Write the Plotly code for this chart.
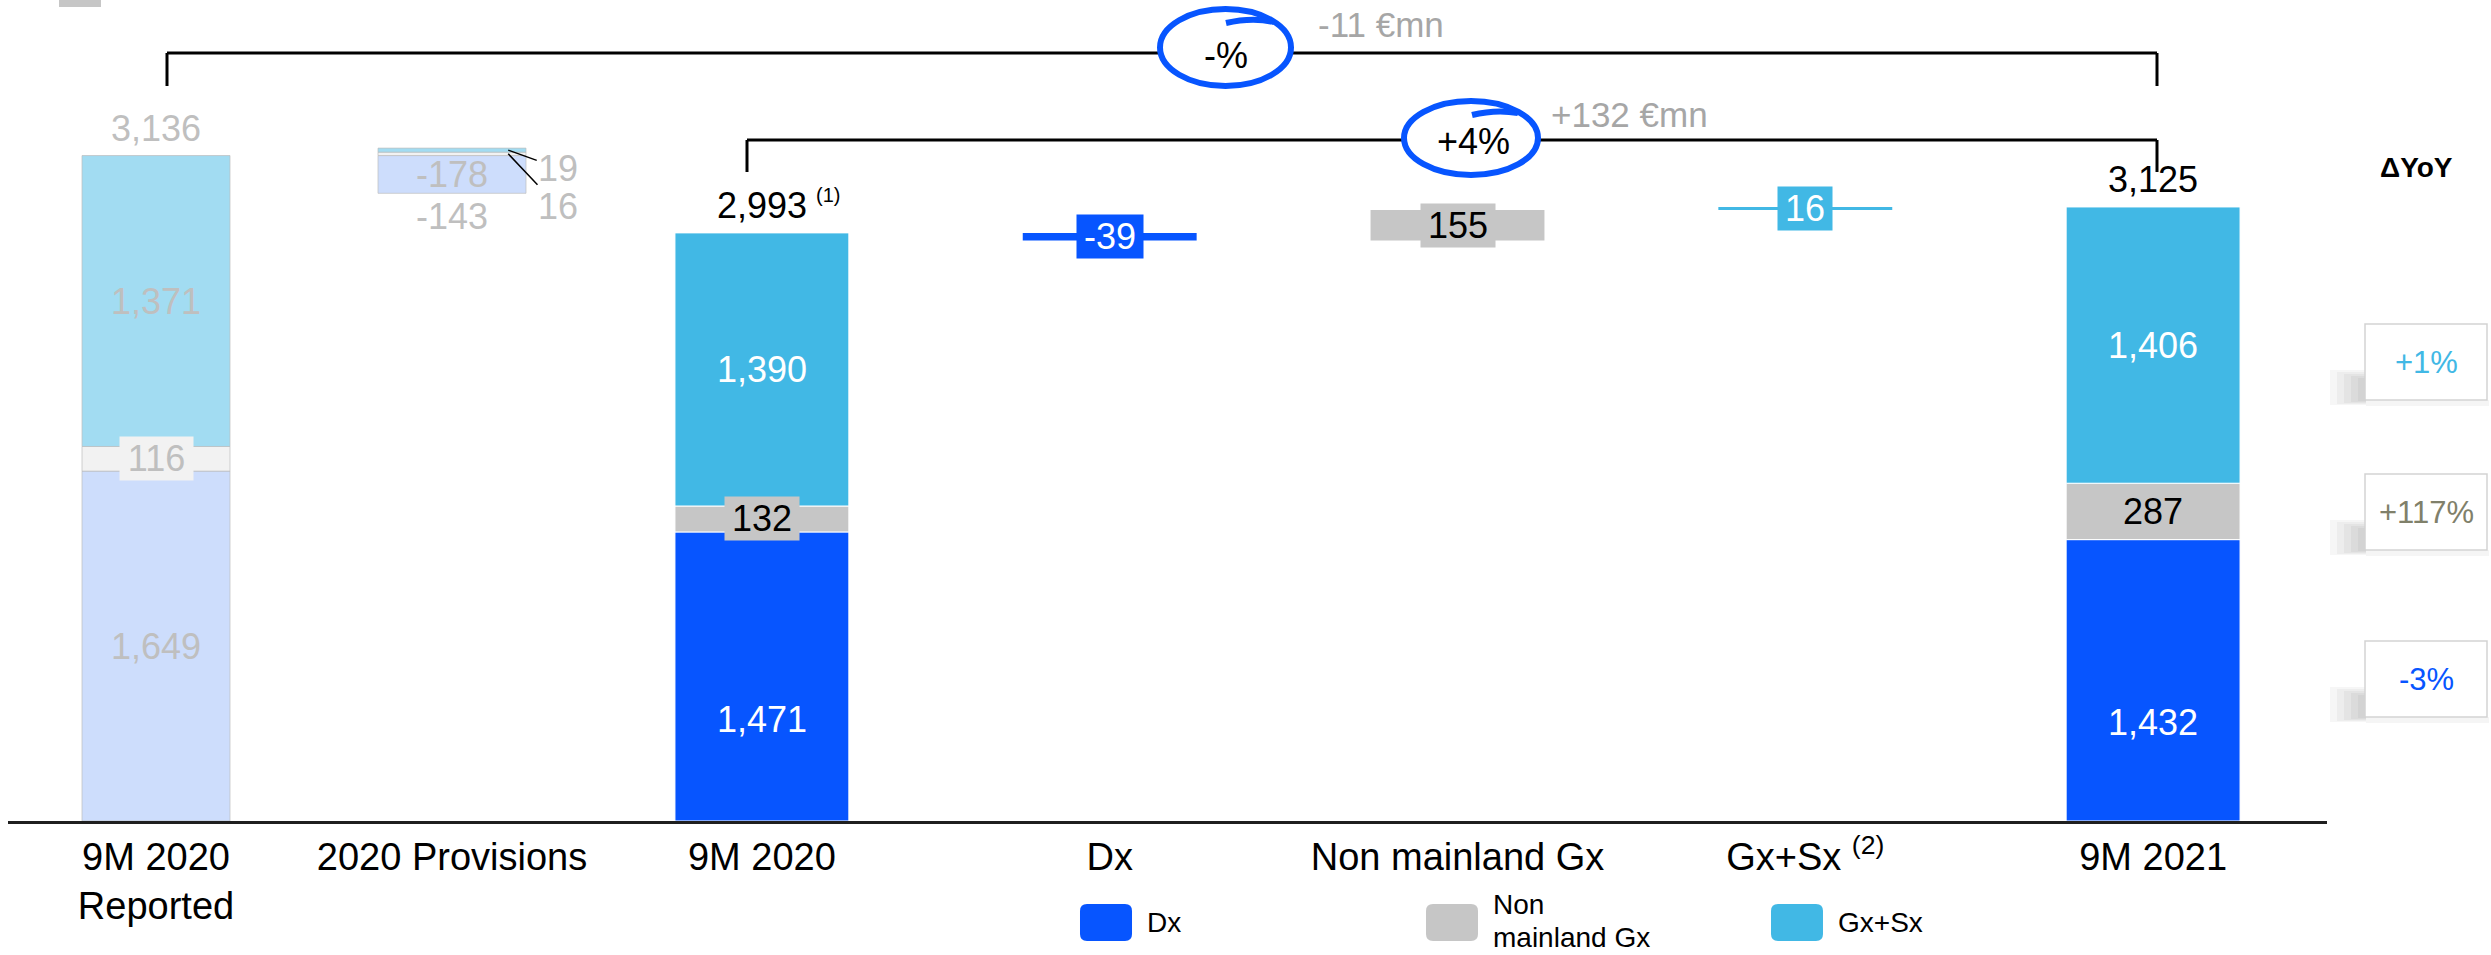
import plotly.graph_objects as go

W, H = 2491, 955
FONT = "Liberation Sans, Arial, sans-serif"

# ---- data -------------------------------------------------------------
left_cats = ["9M 2020<br>Reported", "2020 Provisions"]
main_cats = ["9M 2020", "Dx", "Non mainland Gx", "Gx+Sx <sup>(2)</sup>", "9M 2021"]
segment_names = [["Dx"], ["Non", "mainland Gx"], ["Gx+Sx"]]

reported_2020 = [1649, 116, 1371]      # Dx, Non mainland Gx, Gx+Sx
provisions_2020 = [-178, 16, 19]
revenue_9m2021 = [1432, 287, 1406]

yoy_labels = ["-3%", "+117%", "+1%"]
bracket_pct = ["-%", "+4%"]
bracket_abs = ["-11 €mn", "+132 €mn"]

# ---- colours ----------------------------------------------------------
COL = ["#0755FF", "#C6C6C6", "#41B8E5"]
COL_FADED = ["#CDDDFC", "#F2F2F2", "#A2DCF2"]
TXT_FADED = "#BFBFBF"
YOY_COL = ["#0755FF", "#80806A", "#41B8E5"]

# ---- derived series ---------------------------------------------------
revenue_9m2020 = [r + p for r, p in zip(reported_2020, provisions_2020)]
deltas = [b - a for a, b in zip(revenue_9m2020, revenue_9m2021)]
tot_rep = sum(reported_2020)
tot_2020 = sum(revenue_9m2020)
tot_2021 = sum(revenue_9m2021)


def stack_bases(vals):
    out, acc = [], 0
    for v in vals:
        out.append(acc)
        acc += v
    return out


rep_base = stack_bases(reported_2020)
base_2020 = stack_bases(revenue_9m2020)
base_2021 = stack_bases(revenue_9m2021)

# provisions: positives stacked upward from the reported total, negatives downward
prov_base, up, down = [], tot_rep, tot_rep
for p in provisions_2020:
    if p >= 0:
        prov_base.append(up)
        up += p
    else:
        down += p
        prov_base.append(down)

# bridge from 9M 2020 to 9M 2021
wf_base, level = [], tot_2020
for d in deltas:
    if d >= 0:
        wf_base.append(level)
        level += d
    else:
        level += d
        wf_base.append(level)

fig = go.Figure()

for i in range(3):
    fig.add_trace(go.Bar(
        x=left_cats, y=[reported_2020[i], abs(provisions_2020[i])],
        base=[rep_base[i], prov_base[i]], width=0.5,
        marker=dict(color=COL_FADED[i], line=dict(color="rgba(190,190,190,0.7)", width=1)),
        xaxis="x", yaxis="y", hoverinfo="skip", showlegend=False))

for i in range(3):
    fig.add_trace(go.Bar(
        x=[main_cats[0], main_cats[1 + i], main_cats[4]],
        y=[revenue_9m2020[i], abs(deltas[i]), revenue_9m2021[i]],
        base=[base_2020[i], wf_base[i], base_2021[i]], width=0.5,
        marker=dict(color=COL[i], line=dict(color="white", width=[1, 0, 1])),
        xaxis="x2", yaxis="y2", hoverinfo="skip", showlegend=False))

ann = []


def label(text, x, y, axis, color, size=36, **kw):
    d = dict(text=text, x=x, y=y, xref="x" if axis == 1 else "x2",
             yref="y" if axis == 1 else "y2", showarrow=False,
             font=dict(family=FONT, size=size, color=color))
    d.update(kw)
    ann.append(d)


# reported bar
for i, v in enumerate(reported_2020):
    extra = {}
    if i == 1:
        extra = dict(bgcolor=COL_FADED[1], width=71, height=41)
    label(f"{v:,}", left_cats[0], rep_base[i] + v / 2, 1, TXT_FADED, **extra)
label(f"{tot_rep:,}", left_cats[0], tot_rep, 1, TXT_FADED, yshift=27)

# provisions bar
label(f"{provisions_2020[0]:,}", left_cats[1], prov_base[0] + abs(provisions_2020[0]) / 2, 1, TXT_FADED)
label(f"{sum(provisions_2020):,}", left_cats[1], prov_base[0], 1, TXT_FADED, yshift=-23)
for i, off in ((2, 18), (1, 53)):
    ann.append(dict(text=f"{provisions_2020[i]:,}", x=1.19, y=prov_base[i] + provisions_2020[i] / 2,
                    xref="x", yref="y", showarrow=True, arrowhead=0, arrowwidth=1.5,
                    arrowcolor="black", ax=50, ay=off,
                    font=dict(family=FONT, size=36, color=TXT_FADED)))

# 9M 2020 / 9M 2021 stacks
for vals, bases, cat in ((revenue_9m2020, base_2020, main_cats[0]),
                         (revenue_9m2021, base_2021, main_cats[4])):
    label(f"{vals[0]:,}", cat, bases[0] + vals[0] * 0.35, 2, "white")
    extra = dict(bgcolor=COL[1], width=72, height=41) if vals[1] < 200 else {}
    label(f"{vals[1]:,}", cat, bases[1] + vals[1] / 2, 2, "black", **extra)
    label(f"{vals[2]:,}", cat, bases[2] + vals[2] / 2, 2, "white")
label(f"{tot_2020:,}", main_cats[0], tot_2020, 2, "black", yshift=27)
label("(1)", main_cats[0], tot_2020, 2, "black", size=20, xshift=66, yshift=38)
label(f"{tot_2021:,}", main_cats[4], tot_2021, 2, "black", yshift=27)

# bridge labels
box_w = [64, 72, 52]
for i, d in enumerate(deltas):
    label(f"{d:,}", main_cats[1 + i], wf_base[i] + abs(d) / 2, 2,
          "black" if i == 1 else "white", bgcolor=COL[i], width=box_w[i], height=41)


def PX(x):
    return x / W


def PY(y):
    return 1 - y / H


shapes = []


def line(x0, y0, x1, y1, w=3, color="black"):
    shapes.append(dict(type="line", xref="paper", yref="paper", x0=PX(x0), y0=PY(y0),
                       x1=PX(x1), y1=PY(y1), line=dict(color=color, width=w)))


def rect(x0, y0, x1, y1, fill, lc=None, lw=0):
    shapes.append(dict(type="rect", xref="paper", yref="paper", x0=PX(x0), y0=PY(y0),
                       x1=PX(x1), y1=PY(y1), fillcolor=fill,
                       line=dict(color=lc or fill, width=lw)))


def pt(x, y):
    return f"{PX(x):.5f},{PY(y):.5f}"


def rrect(x0, y0, x1, y1, r, fill):
    p = (f"M {pt(x0 + r, y0)} L {pt(x1 - r, y0)} Q {pt(x1, y0)} {pt(x1, y0 + r)} "
         f"L {pt(x1, y1 - r)} Q {pt(x1, y1)} {pt(x1 - r, y1)} L {pt(x0 + r, y1)} "
         f"Q {pt(x0, y1)} {pt(x0, y1 - r)} L {pt(x0, y0 + r)} Q {pt(x0, y0)} {pt(x0 + r, y0)} Z")
    shapes.append(dict(type="path", xref="paper", yref="paper", path=p,
                       fillcolor=fill, line=dict(color=fill, width=0)))


def paper_text(text, x, y, size, color, xanchor="center", bold=False, pad=1):
    ann.append(dict(text=f"<b>{text}</b>" if bold else text, x=PX(x), y=PY(y),
                    xref="paper", yref="paper", showarrow=False, xanchor=xanchor,
                    yanchor="middle", borderpad=pad,
                    font=dict(family=FONT, size=size, color=color)))


# brackets
for (xl, yt, yb_l, xr, yb_r) in ((167, 53, 86, 2157, 86), (747, 140, 172, 2157, 172)):
    line(xl, yb_l, xl, yt)
    line(xl, yt, xr, yt)
    line(xr, yt, xr, yb_r)

# hand-drawn circles around the growth rates
for (x0, y0, x1, y1, tail) in ((1160, 9, 1291, 86, ((1226, 23), (1252, 17), (1274, 22))),
                               (1404, 101, 1538, 175, ((1472, 115), (1496, 109), (1518, 113)))):
    shapes.append(dict(type="circle", xref="paper", yref="paper", x0=PX(x0), y0=PY(y1),
                       x1=PX(x1), y1=PY(y0), fillcolor="white",
                       line=dict(color="#0755FF", width=6)))
    a, b, c = tail
    shapes.append(dict(type="path", xref="paper", yref="paper",
                       path=f"M {pt(*a)} Q {pt(*b)} {pt(*c)}",
                       line=dict(color="#0755FF", width=6)))

paper_text(bracket_pct[0], 1226, 55, 36, "black")
paper_text(bracket_pct[1], 1473, 142, 36, "black")
paper_text(bracket_abs[0], 1316, 24, 35, "#A6A6A6", xanchor="left")
paper_text(bracket_abs[1], 1549, 114, 35, "#A6A6A6", xanchor="left")

# YoY boxes
paper_text("ΔYoY", 2416, 167, 28, "black", bold=True)
for (yt, yb), txt, col in zip(((641, 717), (474, 550), (324, 400)), yoy_labels, YOY_COL):
    for k in range(5):
        rect(2330 + k * 7, yb - 30 + k * 2, 2366, yb + 5 - k, "rgba(0,0,0,0.035)")
    rect(2366, yb, 2489, yb + 6, "rgba(0,0,0,0.04)")
    rect(2365, yt, 2487, yb, "white", "#D3D3D3", 1.5)
    paper_text(txt, 2426, (yt + yb) / 2, 31, col)

# legend
for x0, lines, col in zip((1080, 1426, 1771), segment_names, COL):
    rrect(x0, 904, x0 + 52, 941, 7, col)
    if len(lines) == 1:
        paper_text(lines[0], x0 + 66, 922, 28, "black", xanchor="left", pad=0)
    else:
        for ln, yy in zip(lines, (904, 937)):
            paper_text(ln, x0 + 66, yy, 28, "black", xanchor="left", pad=0)

# small swatch at the top-left corner
rect(59, 0, 101, 7, "#C6C6C6")

axis_common = dict(type="category", showline=True, linecolor="#1F1F1F", linewidth=3,
                   ticks="", showgrid=False, zeroline=False, fixedrange=True,
                   tickfont=dict(family=FONT, size=38, color="black"))

fig.update_layout(
    width=W, height=H, margin=dict(l=0, r=0, t=0, b=0),
    plot_bgcolor="white", paper_bgcolor="white", barmode="overlay", showlegend=False,
    xaxis=dict(domain=[8 / W, 600 / W], range=[-0.5, 1.5], anchor="y",
               categoryorder="array", categoryarray=left_cats, **axis_common),
    xaxis2=dict(domain=[588 / W, 2327 / W], range=[-0.5, 4.5], anchor="y2",
                categoryorder="array", categoryarray=main_cats, **axis_common),
    yaxis=dict(domain=[134 / H, 1], range=[0, 821 / 0.2122], visible=False, anchor="x",
               fixedrange=True),
    yaxis2=dict(domain=[134 / H, 1], range=[0, 821 / 0.1965], visible=False, anchor="x2",
                fixedrange=True),
    annotations=ann, shapes=shapes,
    font=dict(family=FONT),
)

fig.write_html("out.html")
